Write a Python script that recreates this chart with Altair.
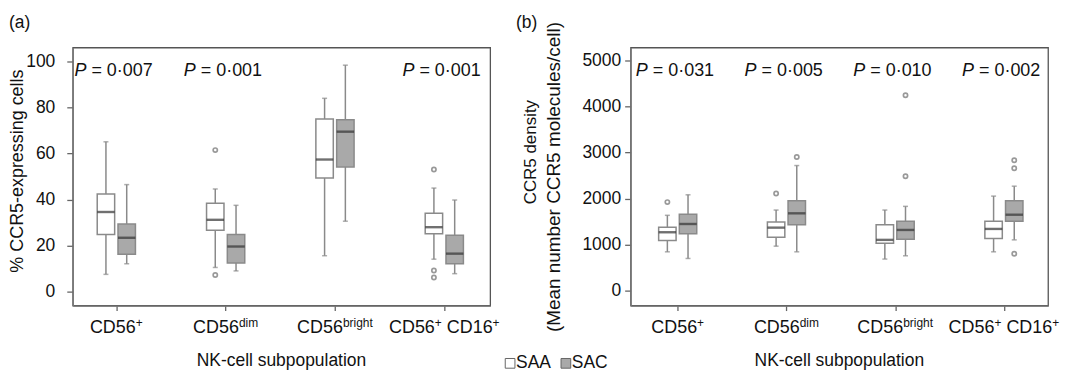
import re
import altair as alt
import pandas as pd

# ---------------- data ----------------
# "^" marks a superscript run in the category labels
cats = ["CD56^+", "CD56^dim", "CD56^bright", "CD56^+ CD16^+"]
groups = ["SAA", "SAC"]

# Panel (a): % CCR5-expressing cells
a_saa_low = [7.5, 10.5, 15.6, 14.1]
a_saa_q1 = [24.8, 26.7, 49.4, 25.1]
a_saa_med = [34.6, 31.2, 57.4, 28.0]
a_saa_q3 = [42.4, 38.4, 75.0, 34.1]
a_saa_high = [65.1, 44.6, 84.0, 45.0]
a_sac_low = [12.1, 9.0, 30.6, 7.8]
a_sac_q1 = [16.2, 12.4, 54.2, 12.1]
a_sac_med = [23.4, 19.6, 69.5, 16.5]
a_sac_q3 = [29.4, 24.8, 74.7, 24.5]
a_sac_high = [46.5, 37.5, 98.4, 39.8]
a_out_cat = [1, 1, 3, 3, 3]
a_out_group = ["SAA", "SAA", "SAA", "SAA", "SAA"]
a_out_val = [61.5, 7.2, 53.1, 9.2, 6.1]
a_pvals = ["0·007", "0·001", "", "0·001"]

# Panel (b): CCR5 density
b_saa_low = [847, 970, 690, 847]
b_saa_q1 = [1091, 1164, 1034, 1134]
b_saa_med = [1271, 1371, 1106, 1343]
b_saa_q3 = [1379, 1493, 1435, 1509]
b_saa_high = [1638, 1752, 1752, 2054]
b_sac_low = [703, 847, 761, 1106]
b_sac_q1 = [1241, 1435, 1121, 1509]
b_sac_med = [1450, 1681, 1321, 1651]
b_sac_q3 = [1659, 1953, 1509, 1953]
b_sac_high = [2082, 2716, 1832, 2269]
b_out_cat = [0, 1, 1, 2, 2, 3, 3, 3]
b_out_group = ["SAA", "SAA", "SAC", "SAC", "SAC", "SAC", "SAC", "SAC"]
b_out_val = [1924, 2112, 2901, 4237, 2485, 2830, 2657, 804]
b_pvals = ["0·031", "0·005", "0·010", "0·002"]

# ---------------- helpers ----------------
DODGE = 0.095
BOXW = 17.5
FONT = "Liberation Sans"
GREY = "#8a8a8a"
W, H = 419, 259
BASE_FS, SUP_FS = 18, 12
# Arial / Liberation Sans advance widths (em)
ADV = {"C": .722, "D": .722, "0": .556, "1": .556, "5": .556, "6": .556, " ": .278,
       "+": .584, "d": .556, "i": .222, "m": .833, "b": .556, "r": .333, "g": .556,
       "h": .556, "t": .278}


def text_w(s, fs):
    return sum(ADV.get(c, .556) for c in s) * fs


def box_frame(saa, sac):
    rows = []
    for g, stats in zip(groups, [saa, sac]):
        low, q1, med, q3, high = stats
        for i in range(len(cats)):
            rows.append({"ci": i, "group": g, "low": low[i], "q1": q1[i],
                         "med": med[i], "q3": q3[i], "high": high[i]})
    df = pd.DataFrame(rows)
    df["xpos"] = df["ci"] + df["group"].map({groups[0]: -DODGE, groups[1]: DODGE})
    return df


def out_frame(cat, grp, val):
    df = pd.DataFrame({"ci": cat, "group": grp, "val": val})
    df["xpos"] = df["ci"] + df["group"].map({groups[0]: -DODGE, groups[1]: DODGE})
    return df


def panel(boxes, outs, pvals, xdom, ydom, yticks, ylabpad, ytitles, extra=None):
    xax = alt.Axis(values=[0, 1, 2, 3], labels=False, title=None, grid=False, tickSize=5)
    yax = alt.Axis(values=yticks, title=None, grid=False, tickSize=6, format="d",
                   labelPadding=ylabpad, labelFontSize=17.5)

    def X(f):
        return alt.X(f"{f}:Q", scale=alt.Scale(domain=xdom, nice=False, zero=False), axis=xax)

    def Y(f):
        return alt.Y(f"{f}:Q", scale=alt.Scale(domain=ydom, nice=False, zero=False), axis=yax)

    fill = alt.Fill("group:N", scale=alt.Scale(domain=groups, range=["#ffffff", "#a9a9a9"]), legend=None)
    base = alt.Chart(boxes)
    w_lo = base.mark_rule(color=GREY, strokeWidth=1.5).encode(x=X("xpos"), y=Y("low"), y2="q1")
    w_hi = base.mark_rule(color=GREY, strokeWidth=1.5).encode(x=X("xpos"), y=Y("q3"), y2="high")
    cap_lo = base.mark_tick(orient="horizontal", size=5, thickness=1.5, color=GREY).encode(x=X("xpos"), y=Y("low"))
    cap_hi = base.mark_tick(orient="horizontal", size=5, thickness=1.5, color=GREY).encode(x=X("xpos"), y=Y("high"))
    box = base.mark_bar(size=BOXW, stroke=GREY, strokeWidth=1.5).encode(x=X("xpos"), y=Y("q1"), y2="q3", fill=fill)
    med = base.mark_tick(orient="horizontal", size=BOXW, thickness=2.4, color="#333333").encode(x=X("xpos"), y=Y("med"))
    pts = alt.Chart(outs).mark_point(shape="circle", size=18, filled=False, color="#6f6f6f",
                                     strokeWidth=1.7).encode(x=X("xpos"), y=Y("val"))
    pdf = pd.DataFrame({"ci": list(range(len(cats))), "p": pvals})
    pbase = alt.Chart(pdf).transform_filter("datum.p != ''")
    p_it = pbase.mark_text(font=FONT, fontSize=18, fontStyle="italic", align="left", baseline="middle",
                           dx=-42, color="#111").encode(x=X("ci"), y=alt.value(24), text=alt.value("P"))
    p_tx = pbase.transform_calculate(lab="'= ' + datum.p").mark_text(
        font=FONT, fontSize=18, align="left", baseline="middle", dx=-25, color="#111"
    ).encode(x=X("ci"), y=alt.value(24), text="lab:N")

    # category labels with real superscripts
    lab_layers = []
    for i, lab in enumerate(cats):
        segs = re.split(r"\^(\S+)", lab)
        sizes = [BASE_FS if k % 2 == 0 else SUP_FS for k in range(len(segs))]
        total = sum(text_w(s, fs) for s, fs in zip(segs, sizes))
        off = -total / 2
        for k, (s, fs) in enumerate(zip(segs, sizes)):
            lead = len(s) - len(s.lstrip(" "))
            off += text_w(" " * lead, fs)
            core = s.strip(" ")
            if core:
                lab_layers.append(
                    alt.Chart(pd.DataFrame({"ci": [i], "t": [core]})).mark_text(
                        font=FONT, fontSize=fs, align="left", baseline="alphabetic",
                        dx=off, color="#111"
                    ).encode(x=X("ci"), y=alt.value(H + (28 if k % 2 == 0 else 22)), text="t:N")
                )
            off += text_w(s.lstrip(" "), fs)
    xtitle = alt.Chart(pd.DataFrame({"t": ["NK-cell subpopulation"]})).mark_text(
        font=FONT, fontSize=17.5, align="center", baseline="middle", color="#111"
    ).encode(x=alt.value(W / 2), y=alt.value(H + 56), text="t:N")

    layers = [w_lo, w_hi, cap_lo, cap_hi, box, med, pts, p_it, p_tx] + lab_layers + [xtitle] + ytitles + (extra or [])
    return alt.layer(*layers).properties(width=W, height=H)


def vtext(txt, x, y, size=17):
    return alt.Chart(pd.DataFrame({"t": [txt]})).mark_text(
        font=FONT, fontSize=size, angle=270, align="center", baseline="middle", color="#111"
    ).encode(x=alt.value(x), y=alt.value(y), text="t:N")


def htext(txt, x, y, size=17, align="left"):
    return alt.Chart(pd.DataFrame({"t": [txt]})).mark_text(
        font=FONT, fontSize=size, align=align, baseline="middle", color="#111"
    ).encode(x=alt.value(x), y=alt.value(y), text="t:N")


leg_df = pd.DataFrame({"group": groups})
legend_layers = []
for g, sx, fillc in zip(groups, [439, 495], ["#ffffff", "#a9a9a9"]):
    d = alt.Chart(leg_df).transform_filter(alt.datum.group == g)
    legend_layers.append(d.mark_point(shape="square", size=95, filled=True, fill=fillc, stroke="#666",
                                      strokeWidth=1, opacity=1).encode(x=alt.value(sx), y=alt.value(317)))
    legend_layers.append(d.mark_text(font=FONT, fontSize=17.5, align="left", baseline="middle", color="#111")
                         .encode(x=alt.value(sx + 6), y=alt.value(317), text="group:N"))

pa = panel(
    box_frame([a_saa_low, a_saa_q1, a_saa_med, a_saa_q3, a_saa_high],
              [a_sac_low, a_sac_q1, a_sac_med, a_sac_q3, a_sac_high]),
    out_frame(a_out_cat, a_out_group, a_out_val), a_pvals,
    [-0.353, 3.374], [-6.06, 106.06], [0, 20, 40, 60, 80, 100], 12,
    [vtext("% CCR5-expressing cells", -55, 124, 18), htext("(a)", -64, -25, 17.5)],
    legend_layers,
)

pb = panel(
    box_frame([b_saa_low, b_saa_q1, b_saa_med, b_saa_q3, b_saa_high],
              [b_sac_low, b_sac_q1, b_sac_med, b_sac_q3, b_sac_high]),
    out_frame(b_out_cat, b_out_group, b_out_val), b_pvals,
    [-0.387, 3.36], [-317, 5272], [0, 1000, 2000, 3000, 4000, 5000], 4,
    [vtext("CCR5 density", -100, 105, 17),
     vtext("(Mean number CCR5 molecules/cell)", -77, 130, 19),
     htext("(b)", -115, -25, 17.5)],
)

chart = alt.hconcat(pa, pb, spacing=141, bounds="flush").properties(
    padding={"left": 0, "top": 4, "right": 0, "bottom": 0}
).configure_view(stroke="#555", strokeWidth=1.3).configure_axis(
    domainColor="#777", domainWidth=1.3, tickColor="#666", tickWidth=1.3,
    labelColor="#111", titleColor="#111", labelFont=FONT, titleFont=FONT, titleFontWeight="normal"
)

chart.save("out.html", embed_options={"renderer": "svg", "actions": False})
